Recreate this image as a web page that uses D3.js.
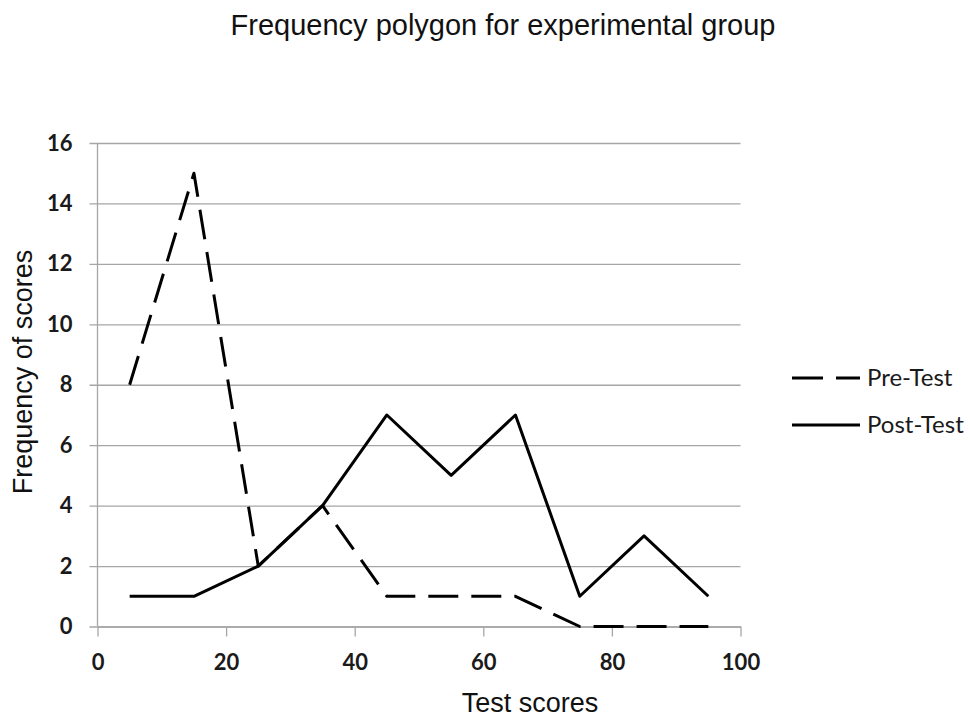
<!DOCTYPE html>
<html>
<head>
<meta charset="utf-8">
<script src="https://cdn.jsdelivr.net/npm/d3@7/dist/d3.min.js"></script>
<style>
  html, body { margin: 0; padding: 0; background: #fff; }
  svg { display: block; }
</style>
</head>
<body>
<svg id="chart" width="970" height="717"></svg>
<script>
// Class midpoints of the test-score intervals
const scores = [5, 15, 25, 35, 45, 55, 65, 75, 85, 95];
// Frequencies per interval
const preTest  = [8, 15, 2, 4, 1, 1, 1, 0, 0, 0];
const postTest = [1, 1, 2, 4, 7, 5, 7, 1, 3, 1];
const seriesNames = ["Pre-Test", "Post-Test"];
const xTicks = [0, 20, 40, 60, 80, 100];
const yTicks = [0, 2, 4, 6, 8, 10, 12, 14, 16];

const svg = d3.select("#chart");
const margin = { left: 97.5, right: 740.5, top: 143, bottom: 626.5 };

const x = d3.scaleLinear().domain([0, 100]).range([margin.left, margin.right]);
const y = d3.scaleLinear().domain([0, 16]).range([margin.bottom, margin.top]);

const gridColor = "#a6a6a6";
const labelFont = "Lato, 'Open Sans', sans-serif";
const titleFont = "'Liberation Sans', Arial, sans-serif";
const tickFontSize = 22;

// Horizontal gridlines with outward tick stubs
const yAxis = d3.axisLeft(y).tickValues(yTicks).tickSize(-(margin.right - margin.left)).tickSizeOuter(0).tickPadding(25);
const gy = svg.append("g").attr("transform", `translate(${margin.left},0)`).call(yAxis);
gy.select(".domain").remove();
gy.selectAll(".tick line").attr("x1", -8).attr("stroke", gridColor).attr("stroke-width", 1.3);
gy.selectAll(".tick text")
  .attr("font-family", labelFont).attr("font-weight", "bold").attr("font-size", tickFontSize)
  .attr("fill", "#1a1a1a");

// Vertical axis line
svg.append("line")
  .attr("x1", margin.left).attr("x2", margin.left)
  .attr("y1", margin.top).attr("y2", margin.bottom)
  .attr("stroke", gridColor).attr("stroke-width", 1.3);

// Horizontal axis with downward ticks
const xAxis = d3.axisBottom(x).tickValues(xTicks).tickSize(10).tickSizeOuter(0);
const gx = svg.append("g").attr("transform", `translate(0,${margin.bottom})`).call(xAxis);
gx.select(".domain").attr("stroke", gridColor).attr("stroke-width", 1.3);
gx.selectAll(".tick line").attr("stroke", gridColor).attr("stroke-width", 1.3);
gx.selectAll(".tick text")
  .attr("y", 43.5).attr("dy", null)
  .attr("font-family", labelFont).attr("font-weight", "bold").attr("font-size", tickFontSize)
  .attr("fill", "#1a1a1a");

// Frequency polygons
const line = d3.line().x(d => x(d[0])).y(d => y(d[1]));
const series = [
  { name: seriesNames[0], values: preTest, dash: "30,13" },
  { name: seriesNames[1], values: postTest, dash: null }
];
series.forEach(s => {
  svg.append("path")
    .datum(scores.map((sc, i) => [sc, s.values[i]]))
    .attr("d", line)
    .attr("fill", "none")
    .attr("stroke", "#000")
    .attr("stroke-width", 3)
    .attr("stroke-linejoin", "round")
    .attr("stroke-dasharray", s.dash);
});

// Legend
const legend = svg.append("g").attr("transform", "translate(792,378)");
series.forEach((s, i) => {
  const g = legend.append("g").attr("transform", `translate(0,${i * 47})`);
  g.append("line")
    .attr("x1", 0).attr("x2", 68).attr("y1", 0).attr("y2", 0)
    .attr("stroke", "#000").attr("stroke-width", 3)
    .attr("stroke-dasharray", s.dash ? "31,13" : null);
  g.append("text")
    .attr("x", 75).attr("y", 0).attr("dy", "0.35em")
    .attr("font-family", labelFont).attr("font-size", 24)
    .attr("fill", "#1a1a1a")
    .text(s.name);
});

// Titles
svg.append("text")
  .attr("x", 503).attr("y", 35)
  .attr("text-anchor", "middle")
  .attr("font-family", titleFont).attr("font-size", 29)
  .attr("fill", "#111")
  .text("Frequency polygon for experimental group");

svg.append("text")
  .attr("x", 530).attr("y", 712)
  .attr("text-anchor", "middle")
  .attr("font-family", titleFont).attr("font-size", 27)
  .attr("fill", "#111")
  .text("Test scores");

svg.append("text")
  .attr("transform", "translate(32,372) rotate(-90)")
  .attr("text-anchor", "middle")
  .attr("font-family", titleFont).attr("font-size", 27)
  .attr("fill", "#111")
  .text("Frequency of scores");
</script>
</body>
</html>
